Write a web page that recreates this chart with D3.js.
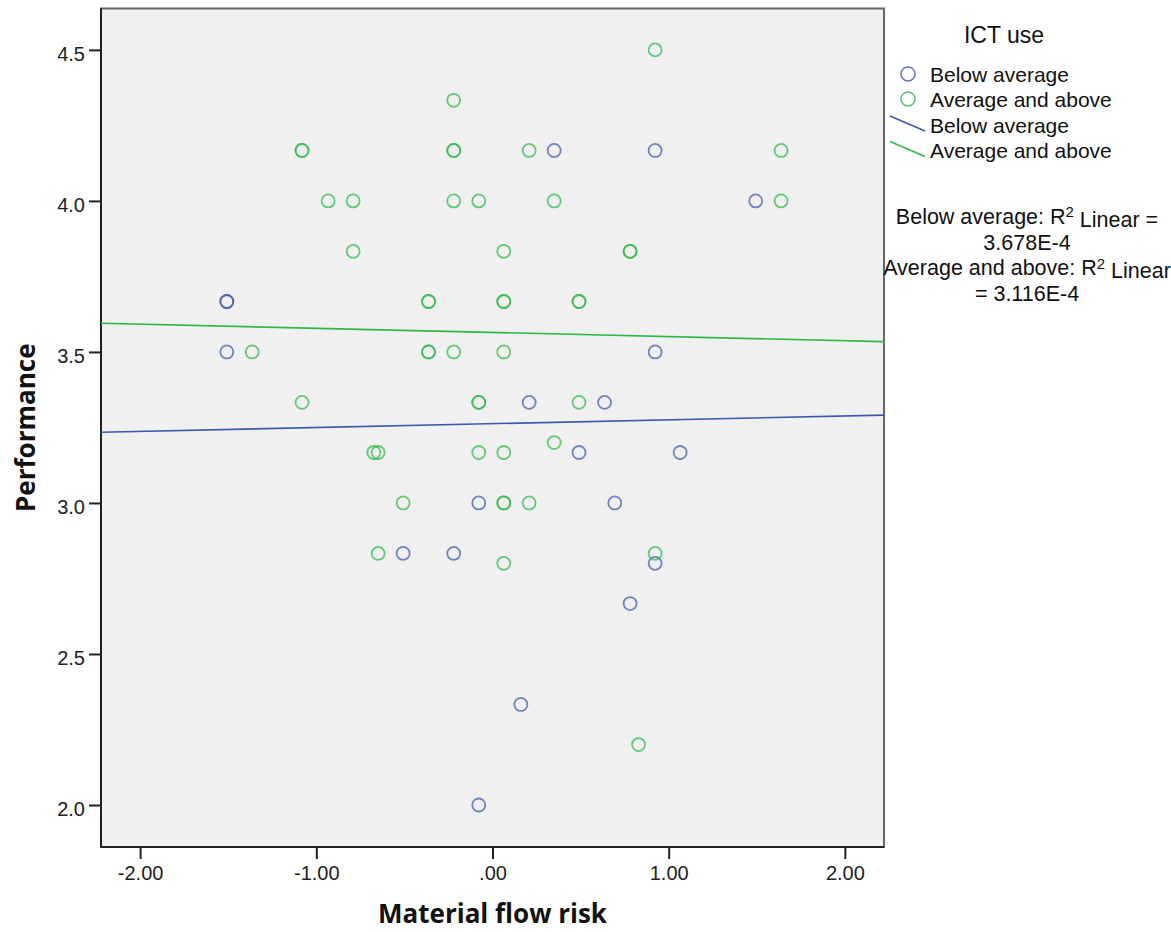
<!DOCTYPE html>
<html>
<head>
<meta charset="utf-8">
<script src="https://cdn.jsdelivr.net/npm/d3@7"></script>
<style>
  body { margin: 0; background: #fff; }
  svg { display: block; }
</style>
</head>
<body>
<div id="chart"></div>
<script>
// Groups (ICT use)
const groups = ['Below average', 'Average and above'];
const groupColors = ['#3e58ac', '#2eb848'];

// Below average points: material flow risk / performance
const belowX = [-1.508, -1.508, -1.508, 0.350, 0.923, 1.494, 0.923, 0.208, 0.636, 0.491,
  1.065, -0.078, 0.694, -0.507, -0.220, 0.923, 0.781, 0.161, -0.078];
const belowY = [3.667, 3.667, 3.5, 4.167, 4.167, 4.0, 3.5, 3.333, 3.333, 3.167,
  3.167, 3.0, 3.0, 2.833, 2.833, 2.8, 2.667, 2.333, 2.0];

// Average and above points
const aboveX = [0.923, -0.220, -1.081, -1.081, -0.220, -0.220, 0.208, 1.638,
  -0.933, -0.791, -0.220, -0.078, 0.350, 1.638,
  -0.791, 0.064, 0.781, 0.781,
  -0.363, -0.363, 0.064, 0.064, 0.491, 0.491,
  -1.364, -0.363, -0.363, -0.220, 0.064,
  -1.081, -0.078, -0.078, 0.491, 0.350,
  -0.674, -0.649, -0.078, 0.064,
  -0.507, 0.064, 0.064, 0.208,
  -0.649, 0.923, 0.064, 0.829];
const aboveY = [4.5, 4.333, 4.167, 4.167, 4.167, 4.167, 4.167, 4.167,
  4.0, 4.0, 4.0, 4.0, 4.0, 4.0,
  3.833, 3.833, 3.833, 3.833,
  3.667, 3.667, 3.667, 3.667, 3.667, 3.667,
  3.5, 3.5, 3.5, 3.5, 3.5,
  3.333, 3.333, 3.333, 3.333, 3.2,
  3.167, 3.167, 3.167, 3.167,
  3.0, 3.0, 3.0, 3.0,
  2.833, 2.833, 2.8, 2.2];

// Fit lines (intercept, slope)
const fitIntercepts = [3.2625, 3.5645];
const fitSlopes = [0.0128, -0.0137];
const r2Labels = ['Below average: R² Linear =', '3.678E-4', 'Average and above: R² Linear', '= 3.116E-4'];

// Axes
const xTicks = [-2, -1, 0, 1, 2];
const xTickLabels = ['-2.00', '-1.00', '.00', '1.00', '2.00'];
const yTicks = [2.0, 2.5, 3.0, 3.5, 4.0, 4.5];
const yTickLabels = ['2.0', '2.5', '3.0', '3.5', '4.0', '4.5'];

const W = 1171, H = 932;
const plot = { left: 101, right: 884, top: 8.5, bottom: 847 };

const svg = d3.select('#chart').append('svg')
  .attr('width', W)
  .attr('height', H);

const x = d3.scaleLinear()
  .domain([-2.222, 2.222])
  .range([plot.left, plot.right]);

const y = d3.scaleLinear()
  .domain([1.861, 4.637])
  .range([plot.bottom, plot.top]);

// Plot background
svg.append('rect')
  .attr('x', plot.left)
  .attr('y', plot.top)
  .attr('width', plot.right - plot.left)
  .attr('height', plot.bottom - plot.top)
  .attr('fill', '#f0f0f0')
  .attr('stroke', '#666')
  .attr('stroke-width', 2);

svg.append('clipPath').attr('id', 'clip')
  .append('rect')
  .attr('x', plot.left)
  .attr('y', plot.top)
  .attr('width', plot.right - plot.left)
  .attr('height', plot.bottom - plot.top);

// Axes
const xAxis = d3.axisBottom(x)
  .tickValues(xTicks)
  .tickSize(12)
  .tickPadding(7)
  .tickFormat((d, i) => xTickLabels[i]);

const yAxis = d3.axisLeft(y)
  .tickValues(yTicks)
  .tickSize(12)
  .tickPadding(4)
  .tickFormat((d, i) => yTickLabels[i]);

const gx = svg.append('g')
  .attr('transform', `translate(0,${plot.bottom})`)
  .call(xAxis);

const gy = svg.append('g')
  .attr('transform', `translate(${plot.left},0)`)
  .call(yAxis);

[gx, gy].forEach(g => {
  g.select('.domain').remove();
  g.selectAll('.tick line').attr('stroke', '#222').attr('stroke-width', 2);
  g.selectAll('.tick text')
    .attr('fill', '#222')
    .style('font-family', '"Liberation Sans", Arial, sans-serif')
    .style('font-size', '20px');
});
gy.selectAll('.tick text').attr('dy', '0.52em');
gx.selectAll('.tick text').attr('dy', '0.72em');

// Left and bottom axis lines
svg.append('line')
  .attr('x1', plot.left).attr('x2', plot.left)
  .attr('y1', plot.top).attr('y2', plot.bottom + 1)
  .attr('stroke', '#222').attr('stroke-width', 2);
svg.append('line')
  .attr('x1', plot.left - 1).attr('x2', plot.right)
  .attr('y1', plot.bottom).attr('y2', plot.bottom)
  .attr('stroke', '#222').attr('stroke-width', 2);

// Axis titles
svg.append('text')
  .attr('x', x(0))
  .attr('y', 923)
  .attr('text-anchor', 'middle')
  .style('font-family', '"Open Sans", sans-serif')
  .style('font-weight', 'bold')
  .style('font-size', '26px')
  .attr('fill', '#111')
  .text('Material flow risk');

svg.append('text')
  .attr('transform', `translate(35,${(plot.top + plot.bottom) / 2}) rotate(-90)`)
  .attr('text-anchor', 'middle')
  .style('font-family', '"Open Sans", sans-serif')
  .style('font-weight', 'bold')
  .style('font-size', '26px')
  .attr('fill', '#111')
  .text('Performance');

// Fit lines
const plotArea = svg.append('g').attr('clip-path', 'url(#clip)');
const xDom = x.domain();
groups.forEach((g, i) => {
  const pts = xDom.map(v => [v, fitIntercepts[i] + fitSlopes[i] * v]);
  plotArea.append('path')
    .datum(pts)
    .attr('fill', 'none')
    .attr('stroke', groupColors[i])
    .attr('stroke-width', 1.6)
    .attr('d', d3.line().x(d => x(d[0])).y(d => y(d[1])));
});

// Points
const series = [
  { xs: belowX, ys: belowY, color: groupColors[0] },
  { xs: aboveX, ys: aboveY, color: groupColors[1] }
];
series.forEach(s => {
  plotArea.append('g')
    .selectAll('circle')
    .data(s.xs.map((v, i) => [v, s.ys[i]]))
    .join('circle')
    .attr('cx', d => x(d[0]))
    .attr('cy', d => y(d[1]))
    .attr('r', 6.5)
    .attr('fill', 'none')
    .attr('stroke', s.color)
    .attr('stroke-opacity', 0.72)
    .attr('stroke-width', 1.8);
});

// Legend
const legendFont = '"Liberation Sans", Arial, sans-serif';
svg.append('text')
  .attr('x', 1004)
  .attr('y', 43)
  .attr('text-anchor', 'middle')
  .style('font-family', legendFont)
  .style('font-size', '23px')
  .attr('fill', '#111')
  .text('ICT use');

groups.forEach((g, i) => {
  const yy = 74 + i * 25;
  svg.append('circle')
    .attr('cx', 908).attr('cy', yy).attr('r', 7)
    .attr('fill', 'none')
    .attr('stroke', groupColors[i])
    .attr('stroke-opacity', 0.8)
    .attr('stroke-width', 1.6);
  svg.append('text')
    .attr('x', 930).attr('y', yy + 7.5)
    .style('font-family', legendFont)
    .style('font-size', '21px')
    .attr('fill', '#111')
    .text(g);
});

groups.forEach((g, i) => {
  const yy = 124 + i * 25.5;
  svg.append('line')
    .attr('x1', 890).attr('y1', yy - 8)
    .attr('x2', 925).attr('y2', yy + 7)
    .attr('stroke', groupColors[i])
    .attr('stroke-width', 1.6);
  svg.append('text')
    .attr('x', 930).attr('y', yy + 8.5)
    .style('font-family', legendFont)
    .style('font-size', '21px')
    .attr('fill', '#111')
    .text(g);
});

// R² annotations
r2Labels.forEach((t, i) => {
  const txt = svg.append('text')
    .attr('x', 1027)
    .attr('y', 224 + i * 25.7)
    .attr('text-anchor', 'middle')
    .style('font-family', legendFont)
    .style('font-size', '21.5px')
    .attr('fill', '#111');
  const parts = t.split('²');
  if (parts.length === 2) {
    txt.append('tspan').text(parts[0]);
    txt.append('tspan').attr('dy', '-0.45em').style('font-size', '15px').text('2');
    txt.append('tspan').attr('dy', '0.45em').text(parts[1]);
  } else {
    txt.text(t);
  }
});
</script>
</body>
</html>
